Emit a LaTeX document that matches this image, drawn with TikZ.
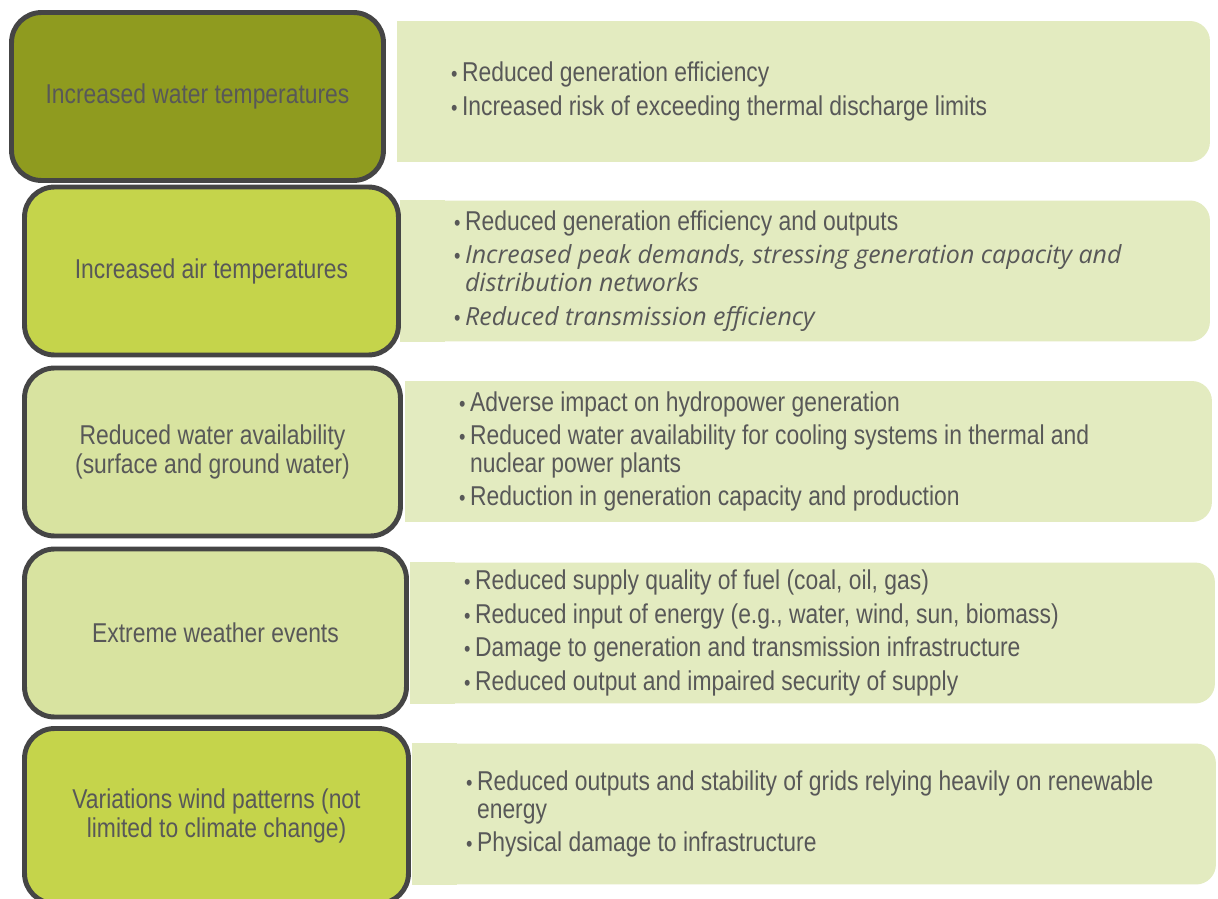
\documentclass[tikz,border=0pt]{standalone}
\usepackage{fontspec}
\setmainfont[FakeStretch=0.84]{Liberation Sans}
\newfontfamily\slantfont{Open Sans}
\usepackage{xcolor}
\usetikzlibrary{positioning}
\definecolor{olivefill}{HTML}{8F9B1F}
\definecolor{limefill}{HTML}{C5D44B}
\definecolor{palefill}{HTML}{D8E3A0}
\definecolor{effectbg}{HTML}{E3EBC0}
\definecolor{edge}{HTML}{454545}
\definecolor{ink}{HTML}{585858}
\newcommand\itm{\makebox[0.26cm][l]{\hspace*{0.04cm}\scalebox{0.8}{\textbullet}}}
\newcommand\cont{\hspace*{0.26cm}}
\newcommand\slant[1]{{\slantfont\itshape\fontsize{14.2}{16}\selectfont #1}}

\begin{document}
\begin{tikzpicture}[
  x=0.02cm,y=-0.02cm,
  cause/.style={draw=edge,line width=2.8pt,rounded corners=0.6cm,
                minimum height=3.36cm,align=center,text=ink,
                font=\fontsize{15.5}{16}\selectfont},
  effect/.style={fill=effectbg,rounded corners=0.4cm,minimum height=2.82cm,
                 inner xsep=1.04cm,align=flush left,text=ink,
                 font=\fontsize{15.5}{16}\selectfont}
]
\useasboundingbox[fill=white] (0,0) rectangle (1218,899);

% effects on the right
\node[effect,text width=14.18cm] (e1) at (803.5,91.5)
  {\itm Reduced generation efficiency\\[3pt]
   \itm Increased risk of exceeding thermal discharge limits};
\node[effect,text width=14.12cm] (e2) at (805,271)
  {\itm Reduced generation efficiency and outputs\\[3pt]
   \itm\slant{Increased peak demands, stressing generation capacity and}\\
   \cont\slant{distribution networks}\\[3pt]
   \itm\slant{Reduced transmission efficiency}};
\node[effect,text width=14.06cm] (e3) at (808.5,451.5)
  {\itm Adverse impact on hydropower generation\\[3pt]
   \itm Reduced water availability for cooling systems in thermal and\\
   \cont nuclear power plants\\[3pt]
   \itm Reduction in generation capacity and production};
\node[effect,text width=14.02cm] (e4) at (812.5,633)
  {\itm Reduced supply quality of fuel (coal, oil, gas)\\[3pt]
   \itm Reduced input of energy (e.g., water, wind, sun, biomass)\\[3pt]
   \itm Damage to generation and transmission infrastructure\\[3pt]
   \itm Reduced output and impaired security of supply};
\node[effect,text width=14.0cm] (e5) at (814,814)
  {\itm Reduced outputs and stability of grids relying heavily on renewable\\
   \cont energy\\[3pt]
   \itm Physical damage to infrastructure};
% square left corners
\foreach \e in {e1,e2,e3,e4,e5}
  \fill[effectbg] (\e.north west) rectangle ([xshift=0.9cm]\e.south west);

% causes on the left
\node[cause,fill=olivefill,minimum width=7.44cm] (c1) at (197.5,96.5)
  {Increased water temperatures};
\node[cause,fill=limefill,minimum width=7.48cm] (c2) at (211.5,271)
  {Increased air temperatures};
\node[cause,fill=palefill,minimum width=7.52cm] (c3) at (212.5,452)
  {Reduced water availability\\(surface and ground water)};
\node[cause,fill=palefill,minimum width=7.64cm] (c4) at (215.5,633)
  {Extreme weather events};
\node[cause,fill=limefill,minimum width=7.68cm,minimum height=3.5cm] (c5) at (216.5,816)
  {Variations wind patterns (not\\limited to climate change)};
\end{tikzpicture}
\end{document}
